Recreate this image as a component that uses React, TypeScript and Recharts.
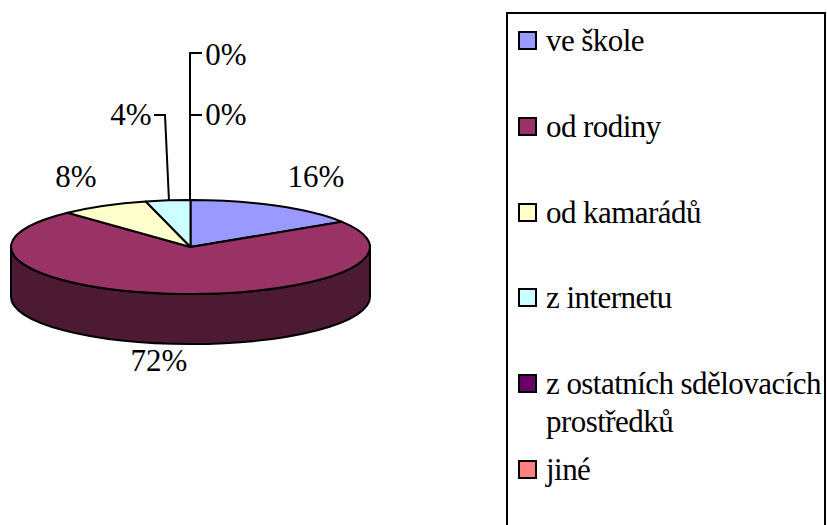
import React from 'react';
import { PieChart, Pie, Cell, Legend } from 'recharts';

const categories = ['ve škole', 'od rodiny', 'od kamarádů', 'z internetu', 'z ostatních sdělovacích', 'jiné'];
const categoryTail = ['', '', '', '', 'prostředků', ''];
const shares = [16, 72, 8, 4, 0, 0];
const colors = ['#9999FF', '#993366', '#FFFFCC', '#CCFFFF', '#660066', '#FF8080'];
const wallColor = '#4D1A33';

const tableData = categories.map((name, i) => ({ name, value: shares[i] }));

const FONT = "'Liberation Serif', serif";
const SQUASH = 47 / 179.5;
const DEPTH = 50;

// hand placed labels, same as in the original chart
const labelSpots = [
  { x: 316, y: 187 },
  { x: 159, y: 371 },
  { x: 76, y: 187 },
  { x: 131, y: 125 },
  { x: 226, y: 125 },
  { x: 226, y: 65 },
];
const leaders: Record<number, string> = {
  3: 'M169 201 L165 115 L154 115',
  4: 'M190 201 L190 115 L202 115',
  5: 'M190 201 L190 53 L202 53',
};

const rad = (deg: number) => (deg * Math.PI) / 180;

const FlatSector = (props: any) => {
  const { cx, cy, outerRadius, startAngle, endAngle, fill } = props;
  if (Math.abs(startAngle - endAngle) < 0.01) return null;
  const rx = outerRadius;
  const ry = outerRadius * SQUASH;
  const px = (a: number) => cx + rx * Math.cos(rad(a));
  const py = (a: number) => cy - ry * Math.sin(rad(a));
  const large = startAngle - endAngle > 180 ? 1 : 0;
  const top = `M${cx} ${cy} L${px(startAngle)} ${py(startAngle)} A${rx} ${ry} 0 ${large} 1 ${px(endAngle)} ${py(endAngle)} Z`;

  // only the front half of the rim shows
  const hi = Math.min(startAngle, 0);
  const lo = Math.max(endAngle, -180);
  let wall = null;
  if (hi > lo) {
    const d = `M${px(hi)} ${py(hi)} A${rx} ${ry} 0 0 1 ${px(lo)} ${py(lo)} L${px(lo)} ${py(lo) + DEPTH} A${rx} ${ry} 0 0 0 ${px(hi)} ${py(hi) + DEPTH} Z`;
    wall = <path d={d} fill={wallColor} stroke="#000" strokeWidth={2} strokeLinejoin="round" />;
  }
  return (
    <g>
      {wall}
      <path d={top} fill={fill} stroke="#000" strokeWidth={2} strokeLinejoin="round" />
    </g>
  );
};

const renderLabel = (props: any) => {
  const { index, value } = props;
  const spot = labelSpots[index];
  return (
    <g key={index}>
      {leaders[index] && <path d={leaders[index]} fill="none" stroke="#000" strokeWidth={2} />}
      <text x={spot.x} y={spot.y} textAnchor="middle" style={{ fontFamily: FONT, fontSize: 31 }} fill="#000">
        {value}%
      </text>
    </g>
  );
};

const rowTops = [26, 112, 198, 283, 369, 455];

const LegendBox = () => (
  <div style={{ position: 'absolute', left: 506, top: 12, width: 316, height: 530, border: '2px solid #000', background: '#fff' }}>
    {categories.map((name, i) => (
      <div key={name} style={{ position: 'absolute', left: 10, top: rowTops[i] - 13, width: 305 }}>
        <div style={{ position: 'absolute', left: 0, top: 4, width: 15, height: 15, background: colors[i], border: '2px solid #000' }} />
        <div style={{ position: 'absolute', left: 28, top: -5, width: 290, fontFamily: FONT, fontSize: 31, lineHeight: '38px', color: '#000', letterSpacing: '-0.55px', whiteSpace: 'nowrap' }}>
          {name}
          {categoryTail[i] && <br />}
          {categoryTail[i]}
        </div>
      </div>
    ))}
  </div>
);

export default function App() {
  return (
    <div style={{ position: 'absolute', left: 0, top: 0, width: 827, height: 525, overflow: 'hidden', background: '#fff' }}>
      <PieChart width={827} height={525} margin={{ top: 0, right: 0, bottom: 0, left: 0 }}>
        <Pie
          data={tableData}
          dataKey="value"
          nameKey="name"
          cx={190.5}
          cy={247}
          outerRadius={179.5}
          startAngle={90}
          endAngle={-270}
          isAnimationActive={false}
          shape={FlatSector}
          label={renderLabel}
          labelLine={false}
        >
          {tableData.map((entry, i) => (
            <Cell key={entry.name} fill={colors[i]} />
          ))}
        </Pie>
        <Legend content={() => <LegendBox />} wrapperStyle={{ position: 'absolute', left: 0, top: 0, width: 0, height: 0 }} />
      </PieChart>
    </div>
  );
}
